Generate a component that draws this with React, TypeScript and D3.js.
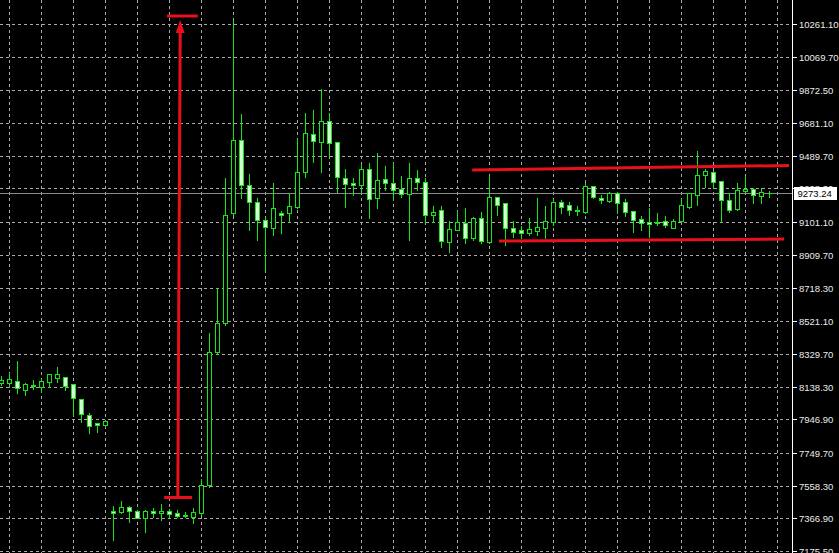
import React from "react";
import * as d3 from "d3";

const W = 839;
const H = 553;

const openP = [
  8159.1, 8159.1, 8170.9, 8118.2, 8141.6, 8135.7, 8165.0, 8188.4, 8194.3, 8153.3,
  8065.4, 7971.8, 7925.0, 7913.2, 7409.7, 7403.8, 7433.1, 7409.7, 7368.7, 7409.7,
  7398.0, 7409.7, 7398.0, 7386.3, 7374.6, 7398.0, 7561.9, 8340.6, 8510.4, 9154.5,
  9581.9, 9318.4, 9218.9, 9113.5, 9066.7, 9154.5, 9154.5, 9189.6, 9394.6, 9617.0,
  9570.2, 9693.2, 9570.2, 9359.4, 9330.2, 9318.4, 9412.1, 9242.3, 9353.6, 9330.2,
  9295.0, 9265.7, 9359.4, 9336.0, 9143.0, 9172.1, 8984.7, 9055.0, 9095.9, 9008.1,
  9125.2, 8984.7, 9248.2, 9213.0, 9066.7, 9055.0, 9037.4, 9049.1, 9066.7, 9101.8,
  9218.9, 9201.3, 9172.1, 9160.4, 9312.6, 9242.3, 9224.8, 9271.6, 9218.9, 9166.2,
  9119.4, 9101.8, 9101.8, 9107.7, 9066.7, 9107.7, 9189.6, 9259.9, 9377.0, 9394.6,
  9341.9, 9230.6, 9178.0, 9283.3, 9295.0, 9254.0, 9271.6,
];
const highP = [
  8206.0, 8223.5, 8293.8, 8165.0, 8182.6, 8188.4, 8217.7, 8258.7, 8194.3, 8159.1,
  8065.4, 7989.3, 7930.8, 7942.5, 7444.8, 7474.1, 7444.8, 7421.4, 7421.4, 7433.1,
  7456.5, 7427.3, 7421.4, 7409.7, 7433.1, 7602.9, 8457.8, 8721.2, 9365.3, 10284.5,
  9740.0, 9388.7, 9248.2, 9131.1, 9336.0, 9172.1, 9271.6, 9593.6, 9745.8, 9763.4,
  9886.4, 9745.8, 9570.2, 9418.0, 9365.3, 9447.2, 9453.1, 9511.6, 9435.5, 9453.1,
  9377.0, 9453.1, 9412.1, 9365.3, 9201.3, 9201.3, 9113.5, 9172.1, 9189.6, 9136.9,
  9166.2, 9377.0, 9248.2, 9218.9, 9113.5, 9084.2, 9131.1, 9248.2, 9201.3, 9242.3,
  9236.5, 9224.8, 9201.3, 9336.0, 9318.4, 9265.7, 9283.3, 9283.3, 9242.3, 9172.1,
  9143.0, 9189.6, 9160.4, 9143.0, 9125.2, 9242.3, 9277.4, 9523.4, 9418.0, 9406.3,
  9347.7, 9277.4, 9336.0, 9377.0, 9306.7, 9306.7, 9289.2,
];
const lowP = [
  8147.4, 8135.7, 8100.6, 8088.9, 8124.0, 8106.4, 8135.7, 8165.0, 8118.2, 7971.8,
  7930.8, 7866.4, 7872.2, 7901.5, 7239.9, 7398.0, 7345.3, 7368.7, 7286.7, 7374.6,
  7357.0, 7374.6, 7374.6, 7374.6, 7339.4, 7386.3, 7550.2, 8334.8, 8498.7, 9143.0,
  9242.3, 9055.0, 8996.4, 8820.8, 9025.7, 9037.4, 9101.8, 9183.8, 9365.3, 9453.1,
  9394.6, 9482.4, 9277.4, 9189.6, 9259.9, 9271.6, 9125.2, 9183.8, 9289.2, 9230.6,
  9248.2, 8996.4, 9289.2, 9095.9, 9101.8, 8955.4, 8926.1, 9055.0, 8978.9, 8996.4,
  8978.9, 8978.9, 9143.0, 8967.2, 9014.0, 9008.1, 9025.7, 9025.7, 9008.1, 9084.2,
  9154.5, 9143.0, 9143.0, 9154.5, 9242.3, 9213.0, 9218.9, 9154.5, 9136.9, 9043.2,
  9055.0, 9014.0, 9084.2, 9072.5, 9066.7, 9101.8, 9183.8, 9201.3, 9306.7, 9300.9,
  9101.8, 9160.4, 9172.1, 9271.6, 9213.0, 9213.0, 9248.2,
];
const closeP = [
  8176.7, 8182.6, 8129.9, 8153.3, 8147.4, 8170.9, 8211.9, 8211.9, 8141.6, 8071.3,
  7977.6, 7907.4, 7913.2, 7936.7, 7398.0, 7433.1, 7409.7, 7368.7, 7409.7, 7398.0,
  7409.7, 7392.1, 7380.4, 7380.4, 7403.8, 7561.9, 8340.6, 8510.4, 9143.0, 9581.9,
  9318.4, 9218.9, 9113.5, 9072.5, 9183.8, 9143.0, 9195.5, 9394.6, 9622.9, 9576.1,
  9693.2, 9564.4, 9365.3, 9324.3, 9318.4, 9412.1, 9236.5, 9347.7, 9330.2, 9289.2,
  9265.7, 9359.4, 9336.0, 9143.0, 9160.4, 8990.5, 9060.8, 9101.8, 9008.1, 9125.2,
  8990.5, 9248.2, 9201.3, 9066.7, 9043.2, 9037.4, 9060.8, 9072.5, 9107.7, 9218.9,
  9189.6, 9172.1, 9166.2, 9312.6, 9248.2, 9230.6, 9271.6, 9213.0, 9160.4, 9113.5,
  9095.9, 9090.1, 9095.9, 9084.2, 9107.7, 9201.3, 9271.6, 9377.0, 9400.4, 9336.0,
  9230.6, 9172.1, 9289.2, 9295.0, 9259.9, 9277.4, 9273.2,
];

const tickLabels = [
  "10261.10", "10069.70", "9872.50", "9681.10", "9489.70", "9298.30", "9101.10",
  "8909.70", "8718.30", "8521.10", "8329.70", "8138.30", "7946.90", "7749.70",
  "7558.30", "7366.90", "7175.50",
];
const currentPrice = 9273.24;

// annotations (index, price)
const rangeTop = { i0: 20.75, i1: 24.6, p: 10307.9 };
const rangeBottom = { i0: 20.4, i1: 23.9, p: 7488.7 };
const arrowLine = { iTop: 22.4, pTop: 10284.5, iBot: 22.1, pBot: 7491.6 };
const channelUpper = [
  { i: 58.9, p: 9406.3 },
  { i: 98.5, p: 9432.6 },
];
const channelLower = [
  { i: 62.25, p: 8990.5 },
  { i: 97.9, p: 9002.3 },
];

export default function App() {
  const yS = d3.scaleLinear().domain([7175.5, 10261.1]).range([551, 24]);
  const xS = d3.scaleLinear().domain([0, 96]).range([1, 769]);
  const axisX = 792.5;
  const green = "#19e619";
  const red = "#e8101a";
  const gridColor = "#a8a8a8";
  const vGrid = d3.range(1, 98, 4);
  const line = d3
    .line<{ i: number; p: number }>()
    .x((d) => xS(d.i))
    .y((d) => yS(d.p));

  const tipX = xS(arrowLine.iTop);
  const tipY = yS(arrowLine.pTop);
  const cpY = Math.round(yS(currentPrice));

  return (
    <svg
      width={W}
      height={H}
      style={{ position: "fixed", left: 0, top: 0, background: "#000" }}
    >
      <rect x={0} y={0} width={W} height={H} fill="#000" />
      {/* grid */}
      <g shapeRendering="crispEdges">
        {tickLabels.map((t) => {
          const yy = Math.round(yS(+t)) + 0.5;
          return (
            <line
              key={"h" + t}
              x1={0}
              x2={axisX}
              y1={yy}
              y2={yy}
              stroke={gridColor}
              strokeDasharray="3,3"
            />
          );
        })}
        {vGrid.map((g) => {
          const xx = Math.round(xS(g)) + 0.5;
          return (
            <line
              key={"v" + g}
              x1={xx}
              x2={xx}
              y1={0}
              y2={H}
              stroke={gridColor}
              strokeDasharray="3,3"
            />
          );
        })}
      </g>
      {/* current price line */}
      <line
        x1={0}
        x2={axisX}
        y1={cpY + 0.5}
        y2={cpY + 0.5}
        stroke="#8a8a8a"
        shapeRendering="crispEdges"
      />
      {/* candles */}
      <g shapeRendering="crispEdges">
        {openP.map((o, i) => {
          const c = closeP[i];
          const cx = Math.round(xS(i)) + 0.5;
          const yh = Math.round(yS(highP[i])) + 0.5;
          const yl = Math.round(yS(lowP[i])) + 0.5;
          const yt = Math.round(yS(Math.max(o, c))) + 0.5;
          const yb = Math.round(yS(Math.min(o, c))) + 0.5;
          const bull = c > o;
          return (
            <g key={i}>
              <line x1={cx} x2={cx} y1={yh} y2={yl} stroke={green} />
              {yb - yt < 1 ? (
                <line x1={cx - 2} x2={cx + 3} y1={yt} y2={yt} stroke={green} />
              ) : (
                <rect
                  x={cx - 2}
                  y={yt}
                  width={4}
                  height={yb - yt}
                  fill={bull ? "#000" : "#d6ffd6"}
                  stroke={green}
                />
              )}
            </g>
          );
        })}
      </g>
      {/* red annotations */}
      <g stroke={red} strokeWidth={3} fill="none" strokeLinecap="butt">
        <line
          x1={xS(rangeTop.i0)}
          x2={xS(rangeTop.i1)}
          y1={yS(rangeTop.p)}
          y2={yS(rangeTop.p)}
        />
        <line
          x1={xS(rangeBottom.i0)}
          x2={xS(rangeBottom.i1)}
          y1={yS(rangeBottom.p)}
          y2={yS(rangeBottom.p)}
        />
        <line
          x1={tipX}
          x2={xS(arrowLine.iBot)}
          y1={tipY + 8}
          y2={yS(arrowLine.pBot)}
        />
        <path d={line(channelUpper) || ""} />
        <path d={line(channelLower) || ""} />
      </g>
      <path
        d={`M${tipX},${tipY} L${tipX - 4.5},${tipY + 13} L${tipX + 4.5},${tipY + 13} Z`}
        fill={red}
      />
      {/* axis */}
      <line
        x1={axisX}
        x2={axisX}
        y1={0}
        y2={H}
        stroke="#ffffff"
        shapeRendering="crispEdges"
      />
      <g
        fontFamily="'Liberation Sans', Arial, sans-serif"
        fontSize={9.5}
        fill="#ececec"
      >
        {tickLabels.map((t) => {
          const yy = Math.round(yS(+t)) + 0.5;
          return (
            <g key={"l" + t}>
              <line
                x1={axisX}
                x2={axisX + 4}
                y1={yy}
                y2={yy}
                stroke="#ffffff"
                shapeRendering="crispEdges"
              />
              <text x={799} y={yy} dominantBaseline="central">
                {t}
              </text>
            </g>
          );
        })}
      </g>
      {/* current price box */}
      <g>
        <rect x={794} y={cpY - 6} width={43} height={13} fill="#ffffff" />
        <text
          x={797.5}
          y={cpY + 0.5}
          dominantBaseline="central"
          fontFamily="'Liberation Sans', Arial, sans-serif"
          fontSize={9.5}
          fill="#000"
        >
          {currentPrice.toFixed(2)}
        </text>
      </g>
    </svg>
  );
}
